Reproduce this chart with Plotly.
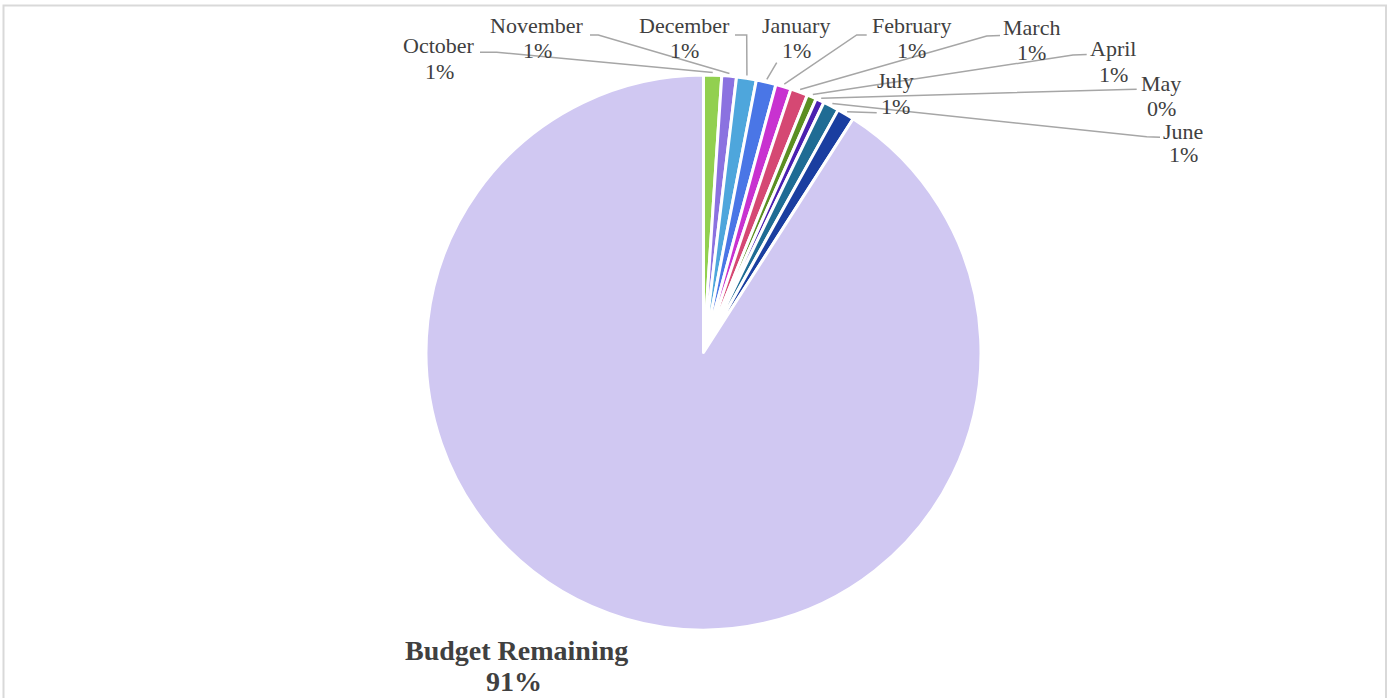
import math
import plotly.graph_objects as go

# ---------------- data ----------------
labels = ["October", "November", "December", "January", "February", "March",
          "April", "May", "June", "July", "Budget Remaining"]
values = [1.05, 0.85, 1.15, 1.15, 0.90, 1.00, 0.55, 0.49, 0.92, 1.00, 90.90]
colors = ["#92D050", "#8B72E0", "#4EA6DC", "#4A76E6", "#C832D0", "#D54873",
          "#5B8F22", "#4A20B0", "#1F6C94", "#1A3EA0", "#D0C8F2"]

# ---------------- layout constants ----------------
W, H = 1388, 698
CX, CY, R = 703.5, 352.5, 277.5          # pie centre / radius in px
FONT = "Liberation Serif"
TXT = "#404040"
LINE = "#A6A6A6"

# label placement (x, y of name line, y of percent line)
label_pos = {
    "October": (439, 45, 71),
    "November": (537, 25, 50),
    "December": (684, 25, 50),
    "January": (796, 25, 50),
    "February": (911, 25, 50),
    "March": (1031, 27, 52),
    "April": (1113, 48, 74),
    "May": (1161, 83, 108),
    "June": (1183, 131, 154),
    "July": (895, 80, 106),
}
# leader-line start points near the labels
leader_start = {
    "October": [(480, 52.3), (496.7, 52.3)],
    "November": [(590, 35), (598.3, 35)],
    "December": [(735, 35), (746.7, 35)],
    "January": [(776.7, 62.7)],
    "February": [(866.7, 35), (856.7, 35)],
    "March": [(1000, 35.5), (986.7, 36)],
    "April": [(1086.7, 54.5), (1073, 55)],
    "May": [(1136.7, 89.3), (1126, 89.5)],
    "June": [(1160, 137.3), (1146.7, 136.7)],
    "July": [(876.7, 112.7)],
}

total = sum(values)


def pct(v):
    return f"{int(math.floor(v / total * 100 + 0.5))}%"


fig = go.Figure()

fig.add_trace(go.Pie(
    labels=labels, values=values, sort=False, direction="clockwise", rotation=0,
    marker=dict(colors=colors, line=dict(color="white", width=3)),
    textinfo="none", hoverinfo="label+percent", showlegend=False,
    domain=dict(x=[(CX - R) / W, (CX + R) / W], y=[(H - CY - R) / H, (H - CY + R) / H]),
))

# leader lines, anchored at mid-angle of each slice
cum = 0.0
annotations = []
for lab, v in zip(labels, values):
    mid = (cum + v / 2) / total * 2 * math.pi
    cum += v
    if lab not in label_pos:
        continue
    ax = CX + 1.01 * R * math.sin(mid)
    ay = CY - 1.01 * R * math.cos(mid)
    pts = leader_start[lab] + [(ax, ay)]
    fig.add_trace(go.Scatter(
        x=[p[0] for p in pts], y=[p[1] for p in pts], mode="lines",
        line=dict(color=LINE, width=1.5), hoverinfo="skip", showlegend=False,
    ))
    lx, ly1, ly2 = label_pos[lab]
    annotations.append(dict(x=lx, y=ly1, text=lab, xref="x", yref="y", showarrow=False,
                            font=dict(family=FONT, size=22, color=TXT)))
    annotations.append(dict(x=lx, y=ly2, text=pct(v), xref="x", yref="y", showarrow=False,
                            font=dict(family=FONT, size=22, color=TXT)))

# big slice label
annotations.append(dict(x=516, y=650, text="<b>Budget Remaining</b>", xref="x", yref="y",
                        showarrow=False, font=dict(family=FONT, size=28, color=TXT)))
annotations.append(dict(x=514, y=681, text="<b>" + pct(values[-1]) + "</b>", xref="x", yref="y",
                        showarrow=False, font=dict(family=FONT, size=28, color=TXT)))

fig.update_layout(
    width=W, height=H, margin=dict(l=0, r=0, t=0, b=0),
    paper_bgcolor="white", plot_bgcolor="rgba(0,0,0,0)",
    xaxis=dict(range=[0, W], visible=False, fixedrange=True),
    yaxis=dict(range=[H, 0], visible=False, fixedrange=True),
    annotations=annotations,
    shapes=[dict(type="rect", xref="x", yref="y", x0=3.5, y0=5.5, x1=1386, y1=720,
                 line=dict(color="#D9D9D9", width=2), layer="below")],
    showlegend=False,
)

fig.write_html(
    "out.html",
    config={"displayModeBar": False},
    post_script="document.body.style.margin='0';document.body.style.padding='0';"
                "document.body.style.overflow='hidden';",
)
